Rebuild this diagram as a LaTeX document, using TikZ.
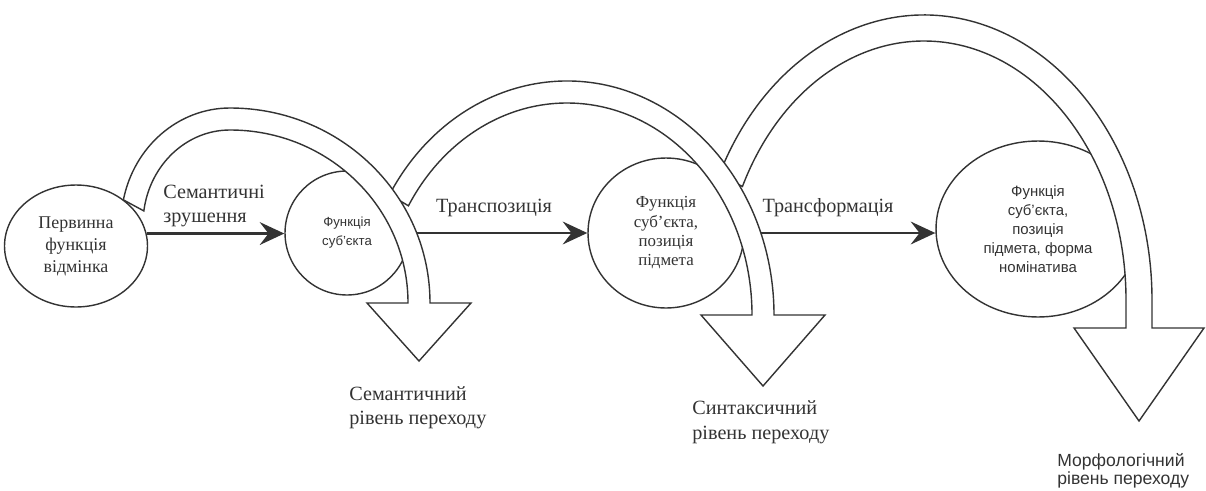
\documentclass[tikz,border=0pt]{standalone}
\usepackage{fontspec}
\setmainfont{Liberation Serif}
\setsansfont{Liberation Sans}
\usetikzlibrary{arrows.meta,shapes.geometric}
\definecolor{ink}{gray}{0.2}

\begin{document}
\begin{tikzpicture}[
		x=0.02cm, y=-0.02cm,
		stage/.style={ % circle of one stage
				ellipse, draw=ink, fill=white, line width=0.8pt,
				inner sep=0pt, align=center, text=ink
			},
		flow/.style={ % straight transition
				draw=ink, line width=1.4pt,
				-{Stealth[length=14pt, width=13pt, inset=5pt]}
			},
		band/.style={draw=ink, fill=white, line width=0.8pt, line join=miter},
		lbl/.style={text=ink, inner sep=0pt, align=left,
				font=\fontsize{11.5}{13.7}\selectfont},
	]
	\useasboundingbox (0,0) rectangle (1206,490);
	% stages under the bands
	\node[stage, minimum width=2.48cm, minimum height=2.48cm,
		font=\sffamily\fontsize{7.5}{10.8}\selectfont] (s2) at (347,233) {Функція\\суб’єкта};
	\node[stage, minimum width=3.12cm, minimum height=3cm,
		font=\fontsize{9.6}{11}\selectfont] (s3) at (666,233) {Функція\\суб’єкта,\\позиція\\підмета};
	\node[stage, minimum width=4.08cm, minimum height=3.52cm,
		font=\sffamily\fontsize{8.5}{10.8}\selectfont] (s4) at (1038,229)
		{Функція\\суб’єкта,\\позиція\\підмета, форма\\номінатива};
	% transitions
	\draw[flow] (s2) -- (s3);
	\draw[flow] (s3) -- (s3 -| s4.west);
	\node[lbl] (t2) at (494,208) {Транспозиція};
	\node[lbl] (t3) at (828,208) {Трансформація};
	% bands, right one first
	\draw[band] (924,300) ++(206:228 and 285)
	arc[start angle=206, end angle=360, x radius=228, y radius=285]
	-- (1152,328) -- (1204,328) -- (1139,421) -- (1074,328) -- (1126,328) -- (1126,300)
	arc[start angle=360, end angle=206, x radius=202, y radius=259] -- cycle;
	\draw[band] (567,315) ++(211:207 and 234)
	arc[start angle=211, end angle=360, x radius=207, y radius=234]
	-- (825,315) -- (763,386) -- (701,315) -- (752,315)
	arc[start angle=360, end angle=211, x radius=185, y radius=212] -- cycle;
	\draw[band] (230,224) ++(192:109 and 116)
	arc[start angle=192, end angle=270, x radius=109, y radius=116]
	arc[start angle=270, end angle=360, x radius=200, y radius=195]
	-- (471,303) -- (419,361) -- (367,303) -- (408,303)
	arc[start angle=360, end angle=270, x radius=178, y radius=173]
	arc[start angle=270, end angle=188, x radius=87, y radius=94] -- cycle;
	% first stage on top
	\node[stage, minimum width=2.86cm, minimum height=2.44cm,
		font=\fontsize{10.2}{12.5}\selectfont] (s1) at (76,246) {Первинна\\функція\\відмінка};
	\draw[flow] (s1.10) -- (s1.10 -| s2.west);
	\node[lbl, anchor=west] (t1) at (163,206) {Семантичні\\зрушення};
	% levels
	\node[lbl, anchor=west] (v1) at (349,408) {Семантичний\\рівень переходу};
	\node[lbl, anchor=west, font=\fontsize{11.5}{14.2}\selectfont] (v2) at (692,422)
		{Синтаксичний\\рівень переходу};
	\node[lbl, anchor=west, font=\sffamily\fontsize{10}{10.5}\selectfont] (v3) at (1057,471)
		{Морфологічний\\рівень переходу};
\end{tikzpicture}
\end{document}
